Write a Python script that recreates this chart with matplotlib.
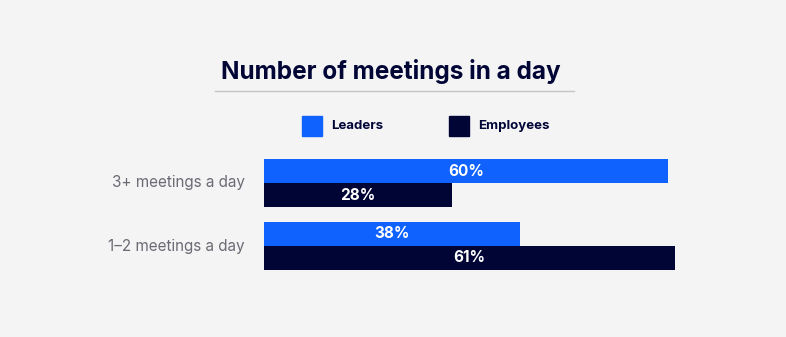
import matplotlib.pyplot as plt
import numpy as np

categories = ["3+ meetings a day", "1–2 meetings a day"]
leaders = [60, 38]
employees = [28, 61]
series_names = ["Leaders", "Employees"]

BG = "#f4f4f4"
BLUE = "#0f62fe"
NAVY = "#000536"
GRAY_TXT = "#6b6b76"

plt.rcParams["font.family"] = ["Inter", "DejaVu Sans"]

W, H = 786, 337
fig = plt.figure(figsize=(W / 100, H / 100), dpi=100, facecolor=BG)

# axes placed in pixel terms: bars start at x=264, 6.73 px per percent
px_per_pct = 6.73
left_px, top_px, bot_px = 264, 140, 290
xmax = (W - left_px) / px_per_pct
ax = fig.add_axes([left_px / W, (H - bot_px) / H, (W - left_px) / W, (bot_px - top_px) / H])
ax.set_facecolor(BG)

group_px = 63
first_center = 183
ax.set_xlim(0, xmax)
ax.set_ylim((bot_px - first_center) / group_px, (top_px - first_center) / group_px)

y = np.arange(len(categories))
h = 24 / group_px
ax.barh(y - h / 2, leaders, height=h, color=BLUE, label=series_names[0])
ax.barh(y + h / 2, employees, height=h, color=NAVY, label=series_names[1])

for yi, (lv, ev) in enumerate(zip(leaders, employees)):
    ax.text(lv / 2, yi - h / 2, f"{lv}%", color="white", ha="center", va="center",
            fontsize=11, fontweight="bold")
    ax.text(ev / 2, yi + h / 2, f"{ev}%", color="white", ha="center", va="center",
            fontsize=11, fontweight="bold")

for yi, cat in zip(y, categories):
    ax.text(-19 / px_per_pct, yi, cat, ha="right", va="center", fontsize=11,
            color=GRAY_TXT)

ax.axis("off")

# title and the rule beneath it
fig.text(391 / W, 1 - 72 / H, "Number of meetings in a day", ha="center", va="center",
         fontsize=17.5, fontweight="bold", color=NAVY)
fig.add_artist(plt.Line2D([215 / W, 574 / W], [1 - 91 / H] * 2, color="#c4c4c8", lw=1))

# legend drawn by hand as squares + labels
for x0, name, col in [(302, series_names[0], BLUE), (449, series_names[1], NAVY)]:
    fig.add_artist(plt.Rectangle((x0 / W, 1 - 136 / H), 20 / W, 20 / H, color=col,
                                 transform=fig.transFigure))
    fig.text((x0 + 29) / W, 1 - 126 / H, name, ha="left", va="center", fontsize=9.5,
             fontweight="bold", color=NAVY)

fig.savefig("out.png", dpi=100, facecolor=BG)
